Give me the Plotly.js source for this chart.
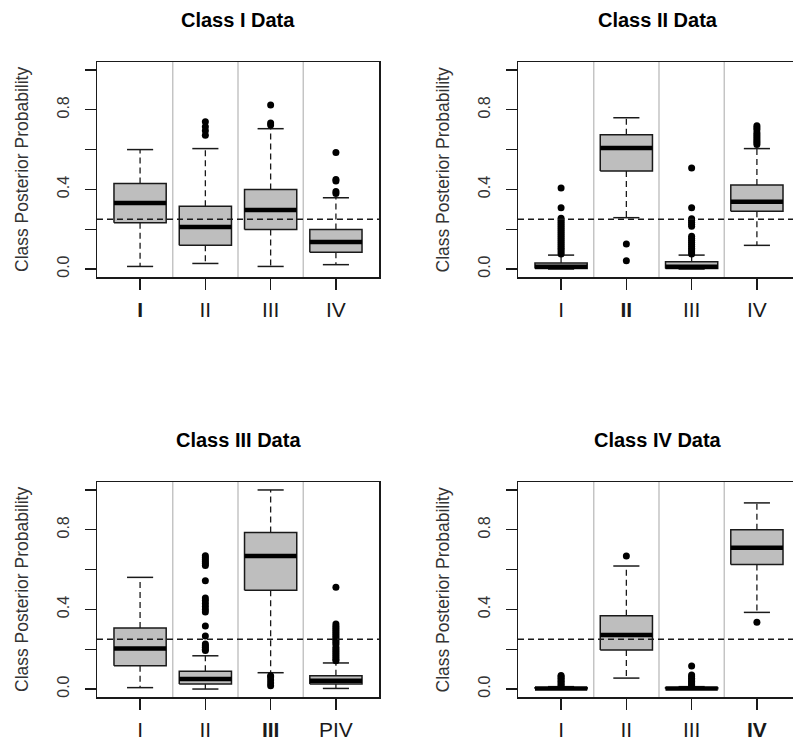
<!DOCTYPE html>
<html>
<head>
<meta charset="utf-8">
<script src="https://cdn.plot.ly/plotly-3.0.1.min.js"></script>
<style>html,body{margin:0;padding:0;background:#fff;}#chart{width:793px;height:745px;}</style>
</head>
<body>
<div id="chart"></div>
<script>
// ---------- DATA ----------
const categories = [1, 2, 3, 4];
const panelTitles = ['Class I Data', 'Class II Data', 'Class III Data', 'Class IV Data'];
const tickLabels1 = ['<b>I</b>', 'II', 'III', 'IV'];
const tickLabels2 = ['I', '<b>II</b>', 'III', 'IV'];
const tickLabels3 = ['I', 'II', '<b>III</b>', 'PIV'];
const tickLabels4 = ['I', 'II', 'III', '<b>IV</b>'];
const yTickVals = [0, 0.2, 0.4, 0.6, 0.8, 1.0];
const yTickText = ['0.0', '', '0.4', '', '0.8', ''];
const yTitle = 'Class Posterior Probability';
const chanceLevel = 0.25;

// Class I data
const p1Low  = [0.013, 0.028, 0.013, 0.022];
const p1Q1   = [0.233, 0.119, 0.199, 0.084];
const p1Med  = [0.332, 0.211, 0.296, 0.136];
const p1Q3   = [0.430, 0.315, 0.400, 0.199];
const p1High = [0.600, 0.605, 0.705, 0.358];
const p1Out  = [[], [0.672, 0.695, 0.715, 0.740], [0.724, 0.733, 0.824], [0.380, 0.390, 0.442, 0.450, 0.585]];

// Class II data
const p2Low  = [0.000, 0.258, 0.000, 0.119];
const p2Q1   = [0.003, 0.492, 0.003, 0.290];
const p2Med  = [0.012, 0.608, 0.012, 0.338];
const p2Q3   = [0.030, 0.675, 0.037, 0.422];
const p2High = [0.070, 0.760, 0.070, 0.605];
const p2Out  = [
  [0.075, 0.085, 0.095, 0.105, 0.115, 0.125, 0.135, 0.145, 0.155, 0.165, 0.175, 0.185, 0.195, 0.205, 0.215, 0.225, 0.235, 0.245, 0.255, 0.308, 0.407],
  [0.042, 0.126],
  [0.075, 0.085, 0.095, 0.105, 0.115, 0.125, 0.135, 0.145, 0.155, 0.165, 0.215, 0.225, 0.235, 0.245, 0.252, 0.308, 0.508],
  [0.625, 0.635, 0.645, 0.655, 0.665, 0.675, 0.685, 0.700, 0.710, 0.720]
];

// Class III data
const p3Low  = [0.007, 0.000, 0.082, 0.003];
const p3Q1   = [0.117, 0.025, 0.496, 0.025];
const p3Med  = [0.204, 0.050, 0.668, 0.042];
const p3Q3   = [0.307, 0.089, 0.786, 0.067];
const p3High = [0.561, 0.167, 1.000, 0.131];
const p3Out  = [
  [],
  [0.193, 0.200, 0.210, 0.218, 0.226, 0.266, 0.317, 0.387, 0.400, 0.415, 0.430, 0.445, 0.457, 0.544, 0.620, 0.630, 0.640, 0.650, 0.660, 0.670],
  [0.017, 0.030, 0.045, 0.060, 0.067],
  [0.142, 0.150, 0.160, 0.170, 0.180, 0.190, 0.200, 0.210, 0.225, 0.235, 0.245, 0.255, 0.265, 0.275, 0.285, 0.295, 0.305, 0.315, 0.327, 0.511]
];

// Class IV data
const p4Low  = [0.000, 0.055, 0.000, 0.385];
const p4Q1   = [0.001, 0.196, 0.001, 0.625];
const p4Med  = [0.003, 0.271, 0.003, 0.710];
const p4Q3   = [0.006, 0.368, 0.006, 0.800];
const p4High = [0.012, 0.618, 0.012, 0.935];
const p4Out  = [
  [0.015, 0.022, 0.030, 0.038, 0.046, 0.054, 0.062, 0.068],
  [0.668],
  [0.015, 0.022, 0.030, 0.038, 0.046, 0.054, 0.062, 0.070, 0.116],
  [0.335]
];

// ---------- STYLE ----------
const W = 793, H = 745;
const FONT = 'Liberation Sans, Arial, Helvetica, sans-serif';
const boxHalf = 0.4, capHalf = 0.2;
const boxFill = '#bebebe', ink = '#1a1a1a';
const dashPat = '6px,4px';

const panels = [
  {low: p1Low, q1: p1Q1, med: p1Med, q3: p1Q3, high: p1High, out: p1Out, ticks: tickLabels1},
  {low: p2Low, q1: p2Q1, med: p2Med, q3: p2Q3, high: p2High, out: p2Out, ticks: tickLabels2},
  {low: p3Low, q1: p3Q1, med: p3Med, q3: p3Q3, high: p3High, out: p3Out, ticks: tickLabels3},
  {low: p4Low, q1: p4Q1, med: p4Med, q3: p4Q3, high: p4High, out: p4Out, ticks: tickLabels4}
];

// pixel geometry of panels (left, right, top, bottom)
const geom = [
  {l: 97,  r: 379, t: 62,  b: 277, xr: [0.34, 4.66]},
  {l: 518, r: 793, t: 62,  b: 277, xr: [0.34, 4.553]},
  {l: 97,  r: 379, t: 482, b: 697, xr: [0.34, 4.66]},
  {l: 518, r: 793, t: 482, b: 697, xr: [0.34, 4.553]}
];
const titleY = [20, 20, 440, 440];
const titleX = [238, 658, 238, 658];
const yTitleX = [21.5, 442, 21.5, 442];

const traces = [];
const shapes = [];
const annotations = [];
const layout = {
  width: W, height: H,
  margin: {l: 0, r: 0, t: 0, b: 0},
  paper_bgcolor: '#ffffff', plot_bgcolor: '#ffffff',
  showlegend: false, hovermode: false,
  font: {family: FONT, color: ink}
};

panels.forEach((p, k) => {
  const g = geom[k];
  const sfx = k === 0 ? '' : String(k + 1);
  const xa = 'x' + sfx, ya = 'y' + sfx;
  const rightPanel = (k % 2 === 1);

  layout['xaxis' + sfx] = {
    domain: [g.l / W, g.r / W], range: g.xr, anchor: ya,
    tickmode: 'array', tickvals: categories, ticktext: p.ticks,
    ticks: 'outside', ticklen: 11, tickwidth: 1.3, tickcolor: ink,
    ticklabelstandoff: 2,
    tickfont: {family: FONT, size: 21, color: ink},
    showline: true, mirror: true, linecolor: ink, linewidth: 1.5,
    showgrid: false, zeroline: false, fixedrange: true
  };
  layout['yaxis' + sfx] = {
    domain: [1 - g.b / H, 1 - g.t / H], range: [-0.04, 1.04], anchor: xa,
    tickmode: 'array', tickvals: yTickVals, ticktext: yTickText,
    ticks: 'outside', ticklen: 11, tickwidth: 1.3, tickcolor: ink,
    tickangle: -90, ticklabelstandoff: 9,
    tickfont: {family: FONT, size: 16, color: '#333333'},
    showline: true, mirror: !rightPanel, linecolor: ink, linewidth: 1.5,
    showgrid: false, zeroline: false, fixedrange: true
  };

  // separators between groups
  [1.5, 2.5, 3.5].forEach(xv => {
    shapes.push({type: 'line', layer: 'below', xref: xa, yref: ya + ' domain',
      x0: xv, x1: xv, y0: 0, y1: 1, line: {color: '#c4c4c4', width: 1.5}});
  });
  // chance level
  shapes.push({type: 'line', layer: 'above', xref: xa + ' domain', yref: ya,
    x0: 0, x1: 1, y0: chanceLevel, y1: chanceLevel,
    line: {color: ink, width: 1.3, dash: dashPat}});

  categories.forEach((c, i) => {
    // whiskers
    traces.push({type: 'scatter', mode: 'lines', xaxis: xa, yaxis: ya,
      x: [c, c, null, c, c], y: [p.q3[i], p.high[i], null, p.q1[i], p.low[i]],
      line: {color: ink, width: 1.3, dash: dashPat}, hoverinfo: 'skip'});
    // caps
    traces.push({type: 'scatter', mode: 'lines', xaxis: xa, yaxis: ya,
      x: [c - capHalf, c + capHalf, null, c - capHalf, c + capHalf],
      y: [p.high[i], p.high[i], null, p.low[i], p.low[i]],
      line: {color: ink, width: 1.5}, hoverinfo: 'skip'});
    // box
    traces.push({type: 'scatter', mode: 'lines', xaxis: xa, yaxis: ya, fill: 'toself', fillcolor: boxFill,
      x: [c - boxHalf, c + boxHalf, c + boxHalf, c - boxHalf, c - boxHalf],
      y: [p.q1[i], p.q1[i], p.q3[i], p.q3[i], p.q1[i]],
      line: {color: ink, width: 1.5}, hoverinfo: 'skip'});
    // median
    traces.push({type: 'scatter', mode: 'lines', xaxis: xa, yaxis: ya,
      x: [c - boxHalf, c + boxHalf], y: [p.med[i], p.med[i]],
      line: {color: '#000000', width: 4.5}, hoverinfo: 'skip'});
    // outliers
    if (p.out[i].length) {
      traces.push({type: 'scatter', mode: 'markers', xaxis: xa, yaxis: ya,
        x: p.out[i].map(() => c), y: p.out[i],
        marker: {color: '#000000', size: 7}, hoverinfo: 'skip'});
    }
  });

  annotations.push({xref: 'paper', yref: 'paper', x: titleX[k] / W, y: 1 - titleY[k] / H,
    xanchor: 'center', yanchor: 'middle', showarrow: false,
    text: '<b>' + panelTitles[k] + '</b>', font: {family: FONT, size: 20, color: '#000000'}});
  annotations.push({xref: 'paper', yref: 'paper', x: yTitleX[k] / W, y: 1 - (g.t + g.b) / 2 / H,
    xanchor: 'center', yanchor: 'middle', showarrow: false, textangle: -90,
    text: yTitle, font: {family: FONT, size: 17.5, color: '#333333'}});
});

layout.shapes = shapes;
layout.annotations = annotations;

Plotly.newPlot('chart', traces, layout, {staticPlot: true, displayModeBar: false});
</script>
</body>
</html>
